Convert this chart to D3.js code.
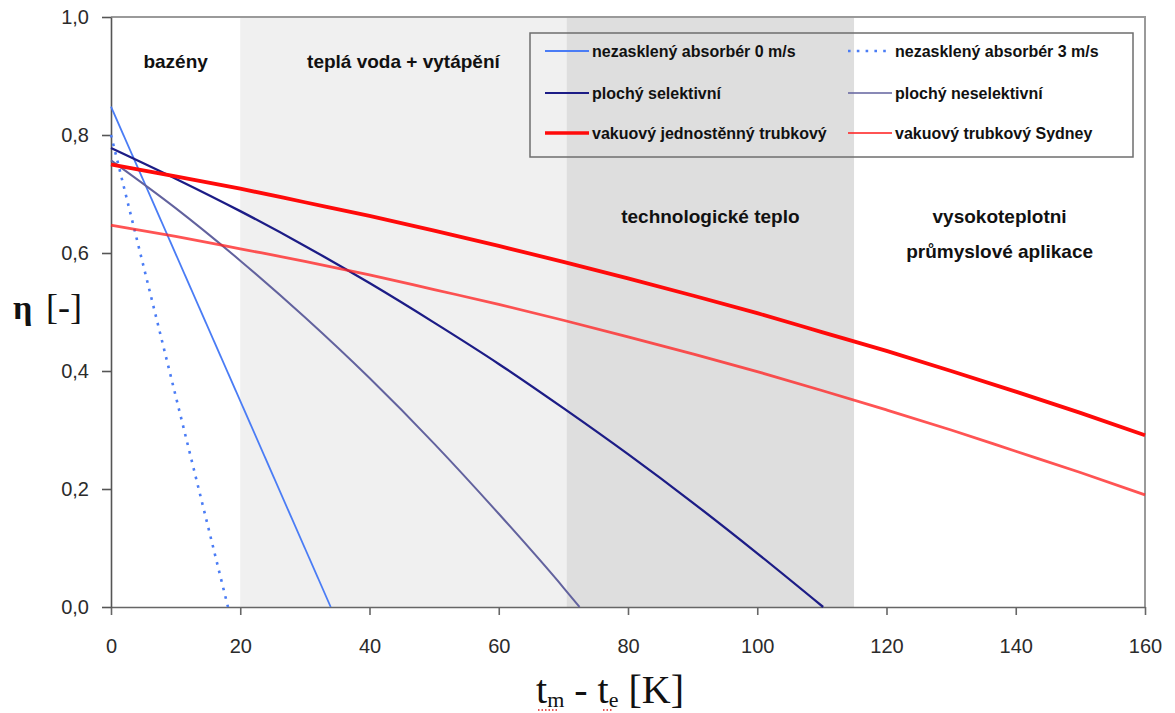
<!DOCTYPE html>
<html>
<head>
<meta charset="utf-8">
<script src="https://cdnjs.cloudflare.com/ajax/libs/d3/7.8.5/d3.min.js"></script>
<style>
body{margin:0;background:#fff;}
svg{display:block;font-family:"Liberation Sans",Arial,sans-serif;}
.axis text{font-size:20px;fill:#2b2b2b;}
.band-label{font-size:19px;font-weight:bold;fill:#111;text-anchor:middle;}
.legend text{font-size:16px;font-weight:bold;fill:#111;}
</style>
</head>
<body>
<div id="canvas"></div>
<script>
//data
var xTicks = [0,20,40,60,80,100,120,140,160];
var yTicks = [0,0.2,0.4,0.6,0.8,1.0];
var bandEdges = [0,20,70.5,115,160];
var bandNames = [['bazény'],['teplá voda + vytápění'],['technologické teplo'],['vysokoteplotni','průmyslové aplikace']];

var absorber0 = [[0,0.848],[34,0]];
var absorber3 = [[0,0.80],[18.1,0]];
var selektivni = [[0,0.778],[10,0.726],[20,0.671],[30,0.612],[40,0.549],[50,0.482],[60,0.412],[70,0.337],[80,0.259],[90,0.177],[100,0.091],[110.2,0]];
var neselektivni = [[0,0.757],[10,0.676],[20,0.587],[30,0.491],[40,0.388],[50,0.277],[60,0.158],[70,0.033],[72.5,0]];
var jednostenny = [[0,0.750],[10,0.730],[20,0.709],[30,0.686],[40,0.663],[50,0.638],[60,0.612],[70,0.585],[80,0.557],[90,0.528],[100,0.498],[110,0.466],[120,0.434],[130,0.400],[140,0.365],[150,0.329],[160,0.291]];
var sydney = [[0,0.647],[10,0.628],[20,0.607],[30,0.586],[40,0.563],[50,0.538],[60,0.513],[70,0.486],[80,0.458],[90,0.429],[100,0.399],[110,0.367],[120,0.334],[130,0.300],[140,0.264],[150,0.228],[160,0.190]];

var seriesNames = ['nezasklený absorbér 0 m/s','nezasklený absorbér 3 m/s','plochý selektivní','plochý neselektivní','vakuový jednostěnný trubkový','vakuový trubkový Sydney'];
var seriesData = [absorber0,absorber3,selektivni,neselektivni,jednostenny,sydney];

//styles
var styles = [
    {color:'#4a7cf5',width:1.8,dash:null,lw:2,op:1},
    {color:'#4a7cf5',width:2.6,dash:'2.6,6.2',lw:2.6,op:1},
    {color:'#1c1c86',width:2.3,dash:null,lw:2.2,op:1},
    {color:'#62629e',width:2,dash:null,lw:1.4,op:1},
    {color:'#ff0a0a',width:3.8,dash:null,lw:3.4,op:1},
    {color:'#ff2424',width:2.8,dash:null,lw:2,op:0.78}
];
var bandColors = ['#ffffff','#f0f0f0','#dedede','#ffffff'];

var outerWidth = 1175, outerHeight = 713;
var m = {t:17,r:30,b:106,l:111};
var w = outerWidth - m.l - m.r,
    h = outerHeight - m.t - m.b;

var svg = d3.select('#canvas')
    .append('svg')
    .attr('width',outerWidth)
    .attr('height',outerHeight);
var plot = svg.append('g')
    .attr('transform','translate(' + m.l + ',' + m.t + ')');

var scaleX = d3.scaleLinear().domain([0,160]).range([0,w]);
var scaleY = d3.scaleLinear().domain([0,1]).range([h,0]);

//bands
var bands = d3.range(bandNames.length).map(function(i){
    return {from:bandEdges[i],to:bandEdges[i+1],name:bandNames[i],color:bandColors[i]};
});
plot.selectAll('.band')
    .data(bands)
    .enter()
    .append('rect')
    .attr('class','band')
    .attr('x',function(d){return scaleX(d.from)})
    .attr('width',function(d){return scaleX(d.to)-scaleX(d.from)})
    .attr('y',0)
    .attr('height',h)
    .attr('fill',function(d){return d.color});

//band labels
var labelY = [51,51,206,206];
plot.selectAll('.band-label')
    .data(bands)
    .enter()
    .append('text')
    .attr('class','band-label')
    .attr('x',function(d){return (scaleX(d.from)+scaleX(d.to))/2})
    .attr('y',function(d,i){return labelY[i]})
    .each(function(d){
        var t = d3.select(this);
        d.name.forEach(function(s,j){
            t.append('tspan')
                .attr('x',(scaleX(d.from)+scaleX(d.to))/2)
                .attr('dy',j===0?0:35)
                .text(s);
        });
    });

//frame top/right
plot.append('path')
    .attr('d','M0,0H'+w+'V'+h)
    .attr('fill','none')
    .attr('stroke','#9a9a9a')
    .attr('stroke-width',2);

//axes
var axisX = d3.axisBottom()
    .scale(scaleX)
    .tickValues(xTicks)
    .tickSize(8)
    .tickSizeOuter(0)
    .tickPadding(24)
    .tickFormat(function(d){return d});
var axisY = d3.axisLeft()
    .scale(scaleY)
    .tickValues(yTicks)
    .tickSize(9)
    .tickSizeOuter(0)
    .tickPadding(13)
    .tickFormat(function(d){return d.toFixed(1).replace('.',',')});
var gx = plot.append('g').attr('class','axis axis-x')
    .attr('transform','translate(0,'+h+')')
    .call(axisX);
var gy = plot.append('g').attr('class','axis axis-y').call(axisY);
gx.selectAll('path,line').attr('stroke','#666').attr('stroke-width',1.6);
gy.selectAll('path,line').attr('stroke','#555').attr('stroke-width',1.6);
gx.selectAll('text').attr('font-family','"Liberation Sans",Arial,sans-serif');
gy.selectAll('text').attr('font-family','"Liberation Sans",Arial,sans-serif');

//lines
var line = d3.line()
    .x(function(d){return scaleX(d[0])})
    .y(function(d){return scaleY(d[1])})
    .curve(d3.curveMonotoneX);

plot.selectAll('.series')
    .data(seriesData)
    .enter()
    .append('path')
    .attr('class','series')
    .attr('d',line)
    .attr('fill','none')
    .attr('stroke',function(d,i){return styles[i].color})
    .attr('stroke-width',function(d,i){return styles[i].width})
    .attr('stroke-dasharray',function(d,i){return styles[i].dash})
    .attr('opacity',function(d,i){return styles[i].op});

//legend
var legend = svg.append('g').attr('class','legend');
legend.append('rect')
    .attr('x',530).attr('y',33)
    .attr('width',603).attr('height',124)
    .attr('fill','none')
    .attr('stroke','#6e6e6e')
    .attr('stroke-width',1.5);
var rowY = [51,93,133], colX = [545,848];
var items = legend.selectAll('.item')
    .data(seriesNames)
    .enter()
    .append('g')
    .attr('class','item')
    .attr('transform',function(d,i){
        return 'translate('+colX[i%2]+','+rowY[Math.floor(i/2)]+')';
    });
items.append('line')
    .attr('x1',0).attr('x2',44)
    .attr('stroke',function(d,i){return styles[i].color})
    .attr('stroke-width',function(d,i){return styles[i].lw})
    .attr('stroke-dasharray',function(d,i){return styles[i].dash})
    .attr('opacity',function(d,i){return styles[i].op});
items.append('text')
    .attr('x',47)
    .attr('dy','0.35em')
    .text(function(d){return d});

//axis titles
var serif = '"Liberation Serif","DejaVu Serif",serif';
svg.append('text')
    .attr('x',13).attr('y',319)
    .attr('font-family',serif)
    .attr('font-size',34)
    .attr('font-weight','bold')
    .attr('fill','#111')
    .text('η');
svg.append('text')
    .attr('x',46).attr('y',319)
    .attr('font-family',serif)
    .attr('font-size',36)
    .attr('fill','#111')
    .text('[-]');

var xt = svg.append('text')
    .attr('x',536).attr('y',703)
    .attr('font-family',serif)
    .attr('font-size',40)
    .attr('fill','#111');
xt.append('tspan').text('t');
xt.append('tspan').attr('font-size',22).attr('dy',4).text('m');
xt.append('tspan').attr('dy',-4).text(' - t');
xt.append('tspan').attr('font-size',22).attr('dy',4).text('e');
xt.append('tspan').attr('dy',-4).text(' [K]');

//spell-check marks under subscripts
var marks = [[538,558],[603,613]];
svg.selectAll('.mark')
    .data(marks)
    .enter()
    .append('line')
    .attr('x1',function(d){return d[0]})
    .attr('x2',function(d){return d[1]})
    .attr('y1',710).attr('y2',710)
    .attr('stroke','#e02020')
    .attr('stroke-width',1.5)
    .attr('stroke-dasharray','1.5,2');
</script>
</body>
</html>
